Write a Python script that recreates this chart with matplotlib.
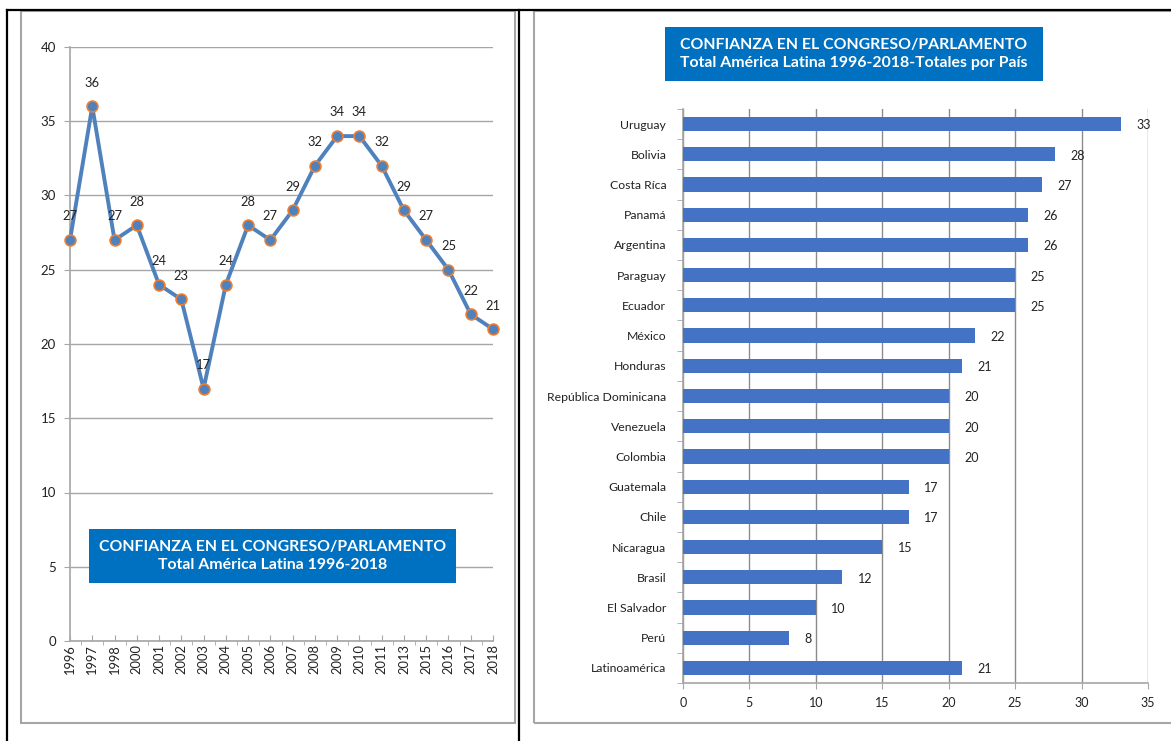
import matplotlib
matplotlib.use("Agg")
import matplotlib.pyplot as plt
from matplotlib.patches import Rectangle
from matplotlib.lines import Line2D
import numpy as np

years = ["1996", "1997", "1998", "2000", "2001", "2002", "2003", "2004", "2005", "2006",
         "2007", "2008", "2009", "2010", "2011", "2013", "2015", "2016", "2017", "2018"]
confianza = [27, 36, 27, 28, 24, 23, 17, 24, 28, 27, 29, 32, 34, 34, 32, 29, 27, 25, 22, 21]

paises = ["Uruguay", "Bolivia", "Costa Ríca", "Panamá", "Argentina", "Paraguay", "Ecuador",
          "México", "Honduras", "República Dominicana", "Venezuela", "Colombia", "Guatemala",
          "Chile", "Nicaragua", "Brasil", "El Salvador", "Perú", "Latinoamérica"]
totales = [33, 28, 27, 26, 26, 25, 25, 22, 21, 20, 20, 20, 17, 17, 15, 12, 10, 8, 21]

title_left = "CONFIANZA EN EL CONGRESO/PARLAMENTO\nTotal América Latina 1996-2018"
title_right = "CONFIANZA EN EL CONGRESO/PARLAMENTO\nTotal América Latina 1996-2018-Totales por País"

plt.rcParams['font.family'] = ['Lato', 'DejaVu Sans']

W, H = 1171, 741
fig = plt.figure(figsize=(W / 100, H / 100), dpi=100)

def fx(px):
    return px / W

def fy(py):
    return 1 - py / H

# frames
gray = "#A6A6A6"
fig.patches.append(Rectangle((fx(21), fy(723)), fx(515 - 21), (723 - 11) / H,
                             transform=fig.transFigure, fill=False, edgecolor=gray, lw=1.5))
fig.patches.append(Rectangle((fx(534), fy(723)), fx(1175 - 534), (723 - 11) / H,
                             transform=fig.transFigure, fill=False, edgecolor=gray, lw=1.5))
for l in [Line2D([fx(7), 1], [fy(10), fy(10)], color="black", lw=1.6),
          Line2D([fx(7), fx(7)], [fy(10), 0], color="black", lw=1.6),
          Line2D([fx(519), fx(519)], [fy(10), 0], color="black", lw=1.6)]:
    l.set_transform(fig.transFigure)
    fig.lines.append(l)

# ---------------- Left: line chart ----------------
ax1 = fig.add_axes([fx(70), fy(641), fx(493 - 70), (641 - 47) / H])
x = np.arange(len(years))
ax1.plot(x, confianza, color="#4F81BD", lw=2.8, marker="o", markersize=7.8,
         markerfacecolor="#4F81BD", markeredgecolor="#ED7D31", markeredgewidth=1.2,
         zorder=3, clip_on=False)
for xi, v in zip(x, confianza):
    ax1.annotate(str(v), (xi, v), xytext=(0, 17), textcoords="offset points",
                 ha="center", va="center", fontsize=9.3, color="#222222")
ax1.set_xlim(0, len(years) - 1)
ax1.set_ylim(0, 40)
ax1.set_yticks(range(0, 41, 5))
ax1.set_xticks(x)
ax1.set_xticklabels(years, rotation=90, fontsize=9.3)
ax1.set_xticks(x[:-1] + 0.5, minor=True)
ax1.grid(axis="y", color=gray, lw=1.0)
ax1.set_axisbelow(True)
for s in ["top", "right"]:
    ax1.spines[s].set_visible(False)
for s in ["left", "bottom"]:
    ax1.spines[s].set_color(gray)
    ax1.spines[s].set_linewidth(1.2)
ax1.tick_params(axis="y", colors=gray, labelcolor="#222222", labelsize=9.5, length=4, pad=6)
ax1.tick_params(axis="x", which="major", colors=gray, labelcolor="#222222", direction="in", length=4, pad=2)
ax1.tick_params(axis="x", which="minor", colors=gray, direction="out", length=3)

fig.patches.append(Rectangle((fx(89), fy(583)), fx(456 - 89), (583 - 529) / H,
                             transform=fig.transFigure, facecolor="#0070C0", edgecolor="none", zorder=5))
fig.text(fx((89 + 456) / 2), fy(556), title_left, ha="center", va="center", color="white",
         fontsize=11.4, fontweight="bold", linespacing=1.3, zorder=6)

# ---------------- Right: bar chart ----------------
ax2 = fig.add_axes([fx(683), fy(683), fx(1148 - 683), (683 - 109) / H])
y = np.arange(len(paises))
ax2.barh(y, totales, height=0.47, color="#4472C4", zorder=3)
for yi, v in zip(y, totales):
    ax2.annotate(str(v), (v, yi), xytext=(11, -1), textcoords="offset points",
                 ha="left", va="center", fontsize=9, color="#222222")
ax2.set_xlim(0, 35)
ax2.set_ylim(len(paises) - 0.5, -0.5)
ax2.set_xticks(range(0, 36, 5))
ax2.set_yticks(y)
ax2.set_yticklabels(paises, fontsize=8.8)
ax2.set_yticks(np.arange(-0.5, len(paises), 1.0), minor=True)
ax2.grid(axis="x", color="#8C8C8C", lw=1.0)
ax2.set_axisbelow(True)
for s in ["top", "right"]:
    ax2.spines[s].set_visible(False)
for s in ["left", "bottom"]:
    ax2.spines[s].set_color(gray)
    ax2.spines[s].set_linewidth(1.2)
ax2.tick_params(axis="y", which="major", length=0, pad=12, labelcolor="#222222")
ax2.tick_params(axis="y", which="minor", colors=gray, length=4)
ax2.tick_params(axis="x", colors=gray, labelcolor="#222222", labelsize=9, length=4, pad=6)

fig.patches.append(Rectangle((fx(665), fy(81)), fx(1043 - 665), (81 - 27) / H,
                             transform=fig.transFigure, facecolor="#0070C0", edgecolor="none", zorder=5))
fig.text(fx((665 + 1043) / 2), fy(54), title_right, ha="center", va="center", color="white",
         fontsize=11.4, fontweight="bold", linespacing=1.3, zorder=6)

fig.savefig("out.png", dpi=100)
